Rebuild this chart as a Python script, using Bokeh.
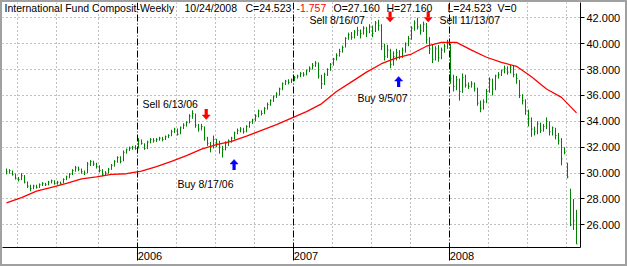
import pandas as pd
from bokeh.plotting import figure
from bokeh.models import (Range1d, FixedTicker, NumeralTickFormatter, DatetimeTickFormatter,
                          Label, Span, ColumnDataSource)
from bokeh.embed import file_html
from bokeh.resources import INLINE

# ---------------- data ----------------
first_week = "2005-03-04"
n_weeks = 191

highs = [
    30.35, 30.3, 30.2, 29.95, 29.7, 30.0, 29.85, 29.35, 29.1, 29.1,
    29.1, 29.2, 29.3, 29.25, 29.4, 29.5, 29.45, 29.4, 29.35, 29.6,
    29.8, 30.0, 30.3, 30.55, 30.5, 30.35, 30.2, 30.85, 31.0, 30.95,
    30.8, 30.6, 30.3, 30.15, 30.4, 30.7, 31.0, 31.3, 31.3, 31.75,
    31.9, 32.05, 32.1, 32.15, 32.7, 32.6, 32.3, 32.5, 32.7, 32.7,
    32.7, 32.8, 32.8, 32.9, 33.0, 33.35, 33.5, 33.45, 33.6, 33.85,
    34.0, 34.55, 34.85, 34.6, 33.8, 33.8, 33.6, 32.8, 32.4, 32.9,
    32.65, 32.5, 32.1, 32.45, 32.6, 32.8, 33.2, 33.45, 33.55, 33.5,
    33.7, 34.0, 34.2, 34.55, 34.9, 34.85, 35.1, 35.45, 35.7, 36.0,
    36.25, 36.6, 37.0, 37.2, 37.25, 37.3, 37.5, 37.6, 37.8, 37.8,
    38.0, 38.25, 38.5, 38.65, 38.55, 37.6, 37.75, 38.1, 38.5, 38.9,
    39.25, 39.6, 39.85, 40.5, 40.85, 40.9, 41.05, 41.3, 41.1, 41.35,
    41.3, 41.5, 41.4, 41.75, 41.85, 41.5, 40.0, 39.9, 39.6, 39.4,
    39.6, 39.5, 39.7, 40.1, 40.6, 41.35, 41.8, 42.0, 41.5, 41.7,
    41.6, 40.5, 39.9, 39.8, 39.9, 39.7, 40.0, 40.3, 40.0, 37.6,
    37.5, 37.3, 37.7, 37.6, 37.0, 37.1, 37.0, 36.6, 35.6, 35.7,
    36.5, 37.4, 37.3, 37.6, 37.8, 38.0, 38.3, 38.25, 38.35, 38.3,
    37.7, 37.2, 36.1, 35.7, 34.9, 34.3, 33.6, 34.0, 33.9, 33.8,
    34.3, 34.0, 33.6, 33.5, 33.1, 32.7, 32.0, 30.8, 28.8, 28.0,
    27.16,
]

lows = [
    29.9, 29.95, 29.8, 29.5, 29.35, 29.45, 29.2, 28.85, 28.6, 28.75,
    28.8, 28.85, 29.0, 29.0, 29.05, 29.2, 29.1, 29.1, 29.1, 29.2,
    29.45, 29.6, 29.85, 30.1, 30.15, 29.95, 29.85, 30.0, 30.55, 30.55,
    30.35, 30.05, 29.75, 29.8, 29.95, 30.25, 30.5, 30.8, 30.75, 30.9,
    31.5, 31.7, 31.8, 31.8, 31.9, 32.2, 31.8, 31.85, 32.3, 32.35,
    32.4, 32.5, 32.45, 32.55, 32.7, 32.85, 33.1, 32.9, 33.0, 33.4,
    33.6, 33.85, 34.2, 33.5, 33.2, 33.3, 32.5, 32.1, 31.6, 31.9,
    32.0, 31.5, 31.2, 31.75, 32.1, 32.35, 32.6, 33.0, 33.15, 33.05,
    33.15, 33.5, 33.8, 34.0, 34.3, 34.45, 34.55, 34.9, 35.2, 35.5,
    35.8, 36.0, 36.4, 36.8, 36.85, 36.95, 37.1, 37.3, 37.4, 37.45,
    37.55, 37.8, 38.0, 38.2, 37.3, 36.5, 36.8, 37.5, 37.9, 38.3,
    38.7, 39.0, 39.3, 39.7, 40.3, 40.3, 40.4, 40.6, 40.4, 40.7,
    40.5, 40.8, 40.5, 40.9, 41.0, 39.5, 38.7, 38.9, 38.1, 38.3,
    38.7, 38.8, 38.9, 39.3, 39.8, 40.3, 41.0, 41.1, 40.7, 40.9,
    40.0, 39.2, 38.5, 38.7, 38.6, 38.8, 39.3, 39.6, 36.9, 36.3,
    36.4, 35.6, 36.2, 36.6, 36.5, 36.6, 36.3, 35.2, 34.7, 34.9,
    35.4, 36.2, 36.0, 36.4, 37.3, 37.5, 37.7, 37.6, 37.7, 37.4,
    36.9, 35.8, 35.3, 34.5, 33.6, 32.8, 32.9, 33.0, 33.1, 33.2,
    33.4, 32.9, 32.9, 32.6, 32.2, 30.6, 31.45, 29.6, 25.9, 25.6,
    24.523,
]

closes = [
    30.1, 30.2, 29.9, 29.6, 29.5, 29.8, 29.3, 29.0, 28.8, 29.0,
    28.9, 29.1, 29.2, 29.1, 29.3, 29.4, 29.2, 29.3, 29.2, 29.5,
    29.7, 29.9, 30.2, 30.4, 30.3, 30.1, 30.0, 30.7, 30.9, 30.7,
    30.5, 30.2, 29.9, 30.0, 30.3, 30.6, 30.9, 31.2, 30.9, 31.6,
    31.8, 31.9, 32.0, 31.9, 32.5, 32.3, 31.9, 32.4, 32.6, 32.5,
    32.6, 32.7, 32.6, 32.8, 32.9, 33.2, 33.4, 33.0, 33.5, 33.7,
    33.9, 34.4, 34.6, 33.7, 33.4, 33.6, 32.7, 32.3, 32.0, 32.6,
    32.3, 32.0, 31.8, 32.3, 32.5, 32.7, 33.1, 33.3, 33.4, 33.2,
    33.6, 33.9, 34.1, 34.4, 34.8, 34.6, 35.0, 35.3, 35.6, 35.9,
    36.1, 36.5, 36.9, 37.1, 37.0, 37.2, 37.4, 37.5, 37.7, 37.6,
    37.9, 38.1, 38.3, 38.5, 37.5, 36.9, 37.6, 38.0, 38.4, 38.8,
    39.1, 39.4, 39.7, 40.4, 40.7, 40.5, 40.9, 41.0, 40.8, 41.2,
    40.9, 41.3, 40.8, 41.6, 41.4, 39.8, 39.0, 39.5, 38.4, 39.0,
    39.3, 39.0, 39.5, 39.9, 40.4, 41.2, 41.6, 41.3, 41.0, 41.5,
    40.3, 39.6, 38.8, 39.6, 38.9, 39.5, 39.8, 40.0, 37.3, 36.7,
    37.2, 36.3, 37.4, 36.8, 36.7, 36.9, 36.5, 35.4, 35.0, 35.5,
    36.3, 37.2, 36.5, 37.5, 37.6, 37.9, 38.1, 37.8, 38.2, 37.6,
    37.3, 36.0, 35.6, 34.8, 34.2, 33.4, 33.2, 33.8, 33.3, 33.6,
    34.0, 33.2, 33.5, 32.9, 32.5, 31.1, 31.6, 29.7, 26.0, 26.3,
    24.523,
]

# moving average, read every 5th week
ma_step = 5
ma_values = [
    27.7, 28.1, 28.6, 28.9, 29.2, 29.55, 29.7, 29.9, 29.95, 30.15,
    30.5, 30.9, 31.35, 31.85, 32.2, 32.45, 32.85, 33.3, 33.75, 34.25,
    34.75, 35.35, 36.3, 37.05, 37.8, 38.45, 38.9, 39.2, 39.8, 40.1,
    40.1, 39.5, 38.95, 38.55, 38.25, 37.45, 36.5, 35.85, 34.65,
]

quarter_starts = ["2005-04-01", "2005-07-01", "2005-10-07", "2006-01-06", "2006-04-07",
                  "2006-07-07", "2006-10-06", "2007-01-05", "2007-04-06", "2007-07-06",
                  "2007-10-05", "2008-01-04", "2008-04-04", "2008-07-04", "2008-10-03"]
year_starts = ["2006-01-06", "2007-01-05", "2008-01-04"]
y_ticks = [26, 28, 30, 32, 34, 36, 38, 40, 42]

signal_dates = ["2006-06-13", "2006-08-17", "2007-08-16", "2007-09-05", "2007-11-13"]
signal_types = ["Sell", "Buy", "Sell", "Buy", "Sell"]
signal_labels = ["Sell 6/13/06", "Buy 8/17/06", "Sell 8/16/07", "Buy 9/5/07", "Sell 11/13/07"]

title_parts = ["International Fund Composit-Weekly", "10/24/2008", "C=24.523", "-1.757",
               "O=27.160", "H=27.160", "L=24.523", "V=0"]

# ---------------- layout / style ----------------
FONT = "Liberation Sans"
GREEN = "#008000"
PX_DAYS = 7.0 / 3.0           # one pixel in days (3 px per week)
px = pd.Timedelta(days=PX_DAYS)


def ms(d):
    return pd.Timestamp(d).value / 1e6


dates = pd.date_range(first_week, periods=n_weeks, freq="7D")
src = ColumnDataSource(dict(date=dates, date_r=dates + px,
                            high=highs, low=lows, close=closes))
ma_dates = dates[::ma_step]

FRAME_W, FRAME_H = 578, 245
x_start = dates[0] - 4 * px
x_end = x_start + FRAME_W * px
y_lo, y_hi = 24.25, 43.18
VY = (y_hi - y_lo) / FRAME_H   # one pixel in price units

p = figure(width=627, height=266, x_axis_type="datetime", y_axis_location="right",
           x_range=Range1d(x_start, x_end), y_range=Range1d(y_lo, y_hi),
           output_backend="svg", toolbar_location=None,
           min_border_left=2, min_border_top=2, min_border_right=47, min_border_bottom=19)
p.styles = {"box-shadow": "inset 0 0 0 2px #a0a0a0", "background-color": "white"}
p.outline_line_color = None
p.background_fill_color = "white"
p.border_fill_color = None

# y axis
ya = p.yaxis[0]
ya.ticker = FixedTicker(ticks=y_ticks)
ya.formatter = NumeralTickFormatter(format="0.000")
ya.major_tick_in = 0
ya.major_tick_out = 4
ya.minor_tick_line_color = None
ya.major_label_standoff = 2
ya.major_label_text_font = FONT
ya.major_label_text_font_size = "11px"
ya.major_label_text_color = "black"
ya.axis_line_color = "black"
ya.major_tick_line_color = "black"

# x axis: year marks as (long) minor ticks, year labels just right of them
year_lines = [pd.Timestamp(d) - px for d in year_starts]
xa = p.xaxis[0]
xa.ticker = FixedTicker(ticks=[ms(t + 12.5 * px) for t in year_lines],
                        minor_ticks=[ms(t) for t in year_lines])
xa.formatter = DatetimeTickFormatter(days="%Y", months="%Y", years="%Y")
xa.major_tick_in = 0
xa.major_tick_out = 0
xa.major_tick_line_color = None
xa.minor_tick_in = 0
xa.minor_tick_out = 13
xa.minor_tick_line_color = "black"
xa.major_label_standoff = -9
xa.major_label_text_font = FONT
xa.major_label_text_font_size = "11px"
xa.major_label_text_color = "black"
xa.axis_line_color = "black"

p.xgrid.visible = False
p.ygrid.grid_line_color = "#808080"
p.ygrid.grid_line_dash = "1 3"
p.ygrid.grid_line_width = 1

for d in quarter_starts:
    if d in year_starts:
        continue
    p.add_layout(Span(location=ms(pd.Timestamp(d) - px), dimension="height",
                      line_color="#808080", line_dash="1 3", line_width=1, level="underlay"))
for t in year_lines:
    p.add_layout(Span(location=ms(t), dimension="height",
                      line_color="black", line_dash="7 2 1 2", line_width=1, level="underlay"))

# price bars
p.segment(x0="date", y0="low", x1="date", y1="high", source=src, line_color=GREEN, line_width=1)
p.segment(x0="date", y0="close", x1="date_r", y1="close", source=src, line_color=GREEN, line_width=1)

# moving average
p.line(ma_dates, ma_values, line_color="#ff0000", line_width=1.3)

# signal arrows (shaft + head) and labels
arrow_tip_y = [34.14, 31.05, 41.68, 37.46, 41.68]
label_sx = [140, 175, 307, 355, 437]
label_y = [35.37, 29.19, 41.79, 35.80, 41.79]
head_xs, head_ys, head_c = [], [], []
sh = dict(left=[], right=[], top=[], bottom=[], c=[])
for d, kind, tip in zip(signal_dates, signal_types, arrow_tip_y):
    c = "#ff0000" if kind == "Sell" else "#0000ff"
    t = pd.Timestamp(d)
    s = 1 if kind == "Sell" else -1
    neck = tip + s * 4.5 * VY
    tail = tip + s * 10.5 * VY
    head_xs.append([ms(t - 4 * px), ms(t + 4 * px), ms(t)])
    head_ys.append([neck, neck, tip])
    head_c.append(c)
    sh["left"].append(ms(t - 1.6 * px))
    sh["right"].append(ms(t + 1.6 * px))
    sh["top"].append(max(neck, tail))
    sh["bottom"].append(min(neck, tail))
    sh["c"].append(c)
p.quad(left="left", right="right", top="top", bottom="bottom", source=ColumnDataSource(sh),
       fill_color="c", line_color=None)
p.patches(head_xs, head_ys, fill_color=head_c, line_color=head_c, line_width=0.5)

for txt, lx, ly in zip(signal_labels, label_sx, label_y):
    p.add_layout(Label(x=lx, y=ly, x_units="screen", y_units="data", text=txt,
                       text_font=FONT, text_font_size="10.5px", text_color="black",
                       text_align="left", text_baseline="middle"))

# header line
title_sx = [2, 182, 243, 294, 331, 384, 445, 495]
title_colors = ["black", "black", "black", "#ff0000", "black", "black", "black", "black"]
for txt, sx, col in zip(title_parts, title_sx, title_colors):
    p.add_layout(Label(x=sx, y=42.72, x_units="screen", y_units="data", text=txt,
                       text_font=FONT, text_font_size="10.5px", text_color=col,
                       text_align="left", text_baseline="middle"))

open("out.html", "w").write(file_html(p, INLINE))
